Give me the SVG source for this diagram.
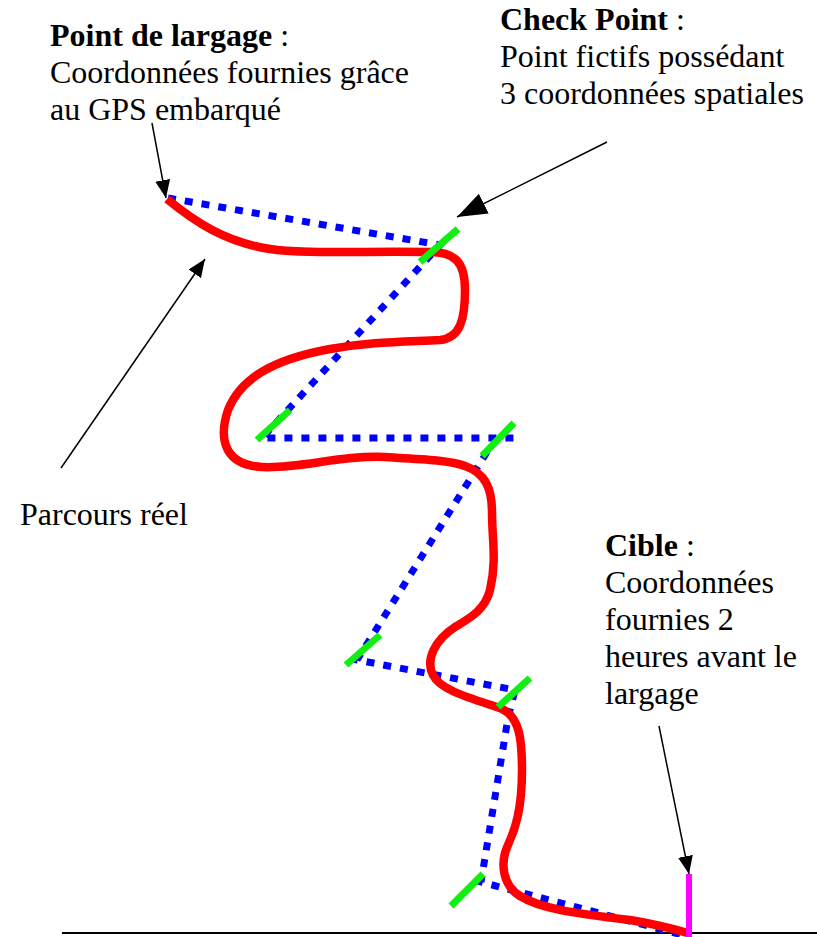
<svg xmlns="http://www.w3.org/2000/svg" width="817" height="937" viewBox="0 0 817 937">
  <style>
    text { font-family: "Liberation Serif", "Times New Roman", serif; font-size: 32px; fill: #000; }
    .b { font-weight: bold; }
    .plan { fill: none; stroke: #0000ff; stroke-width: 7; stroke-dasharray: 8 9; }
    .real { fill: none; stroke: #ff0000; stroke-width: 8.5; stroke-linecap: butt; stroke-linejoin: round; }
    .cp { stroke: #11ee11; stroke-width: 7; }
    .lead { fill: none; stroke: #000; stroke-width: 1.5; marker-end: url(#head); }
    .lead-big { fill: none; stroke: #000; stroke-width: 1.5; marker-end: url(#head-big); }
  </style>
  <defs>
    <marker id="head" markerUnits="userSpaceOnUse" markerWidth="20" markerHeight="16" refX="18" refY="7.5" orient="auto">
      <path d="M0,0 L18,7.5 L0,15 Z" fill="#000"/>
    </marker>
    <marker id="head-big" markerUnits="userSpaceOnUse" markerWidth="32" markerHeight="24" refX="30" refY="11" orient="auto">
      <path d="M0,0 L30,11 L0,22 Z" fill="#000"/>
    </marker>
  </defs>

  <!-- ground line -->
  <line x1="62" y1="933" x2="817" y2="933" stroke="#000" stroke-width="2"/>

  <!-- planned route through the check points -->
  <g id="planned-route">
    <path class="plan" d="M168,198 L440,245 L262,438 L515,438"/>
    <path class="plan" d="M487,452 L357,660 L515,690 L508,718 L481,882 L690,937"/>
  </g>

  <!-- actual flown route -->
  <g id="actual-route">
    <path class="real" d="M167,199 C195,222 225,242 270,249 C300,254 360,251 430,252 C455,252 465,262 465,290 C465,320 460,338 440,340 C400,342 370,342 330,349 C270,360 240,380 228,410 C218,440 225,465 262,467 C300,469 340,455 385,457 C420,459 450,460 465,466 C485,473 492,488 492,512 C492,540 497,560 490,590 C485,610 470,618 455,627 C435,640 425,660 433,675 C440,690 470,698 500,708 C520,716 522,740 522,770 C522,810 515,830 508,845 C500,862 502,885 520,896 C540,908 570,913 630,920 C655,924 670,928 688,933"/>
  </g>

  <!-- check points -->
  <g id="checkpoints">
    <line class="cp" x1="420" y1="262" x2="458" y2="229"/>
    <line class="cp" x1="257" y1="440" x2="290" y2="410"/>
    <line class="cp" x1="482" y1="456" x2="514" y2="423"/>
    <line class="cp" x1="346" y1="665" x2="380" y2="635"/>
    <line class="cp" x1="498" y1="707" x2="530" y2="678"/>
    <line class="cp" x1="451" y1="906" x2="483" y2="874"/>
  </g>

  <!-- target -->
  <g id="target">
    <line x1="689" y1="874" x2="689" y2="937" stroke="#ff00ff" stroke-width="6"/>
  </g>

  <!-- label leaders -->
  <g id="connectors">
    <line class="lead" x1="152" y1="123" x2="166" y2="198"/>
    <line class="lead-big" x1="607" y1="142" x2="457" y2="217"/>
    <line class="lead" x1="61" y1="468" x2="205" y2="259"/>
    <line class="lead" x1="659" y1="726" x2="689" y2="874"/>
  </g>

  <g id="label-drop">
    <text x="50" y="46"><tspan class="b">Point de largage</tspan> :</text>
    <text x="50" y="83">Coordonnées fournies grâce</text>
    <text x="50" y="120">au GPS embarqué</text>
  </g>

  <g id="label-checkpoint">
    <text x="500" y="30"><tspan class="b">Check Point</tspan> :</text>
    <text x="500" y="67">Point fictifs possédant</text>
    <text x="500" y="104">3 coordonnées spatiales</text>
  </g>

  <g id="label-route">
    <text x="20" y="525">Parcours réel</text>
  </g>

  <g id="label-target">
    <text x="605" y="556"><tspan class="b">Cible</tspan> :</text>
    <text x="605" y="593">Coordonnées</text>
    <text x="605" y="630">fournies 2</text>
    <text x="605" y="667">heures avant le</text>
    <text x="605" y="704">largage</text>
  </g>
</svg>
